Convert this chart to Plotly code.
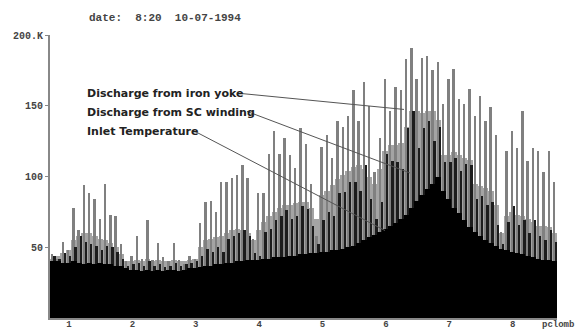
import plotly.graph_objects as go

# sample positions (x axis units, one sample every 1/12)
x_start = 0.74
x_step = 1 / 12
n = 96
x_pos = [round(x_start + i * x_step, 4) for i in range(n)]

# Discharge from iron yoke (tall gray spikes)
iron_yoke = [45, 42, 54, 48, 78, 62, 94, 88, 84, 70, 95, 73, 72, 52, 40, 44, 58, 42, 69, 41,
             53, 43, 40, 53, 41, 38, 44, 42, 67, 82, 83, 75, 96, 96, 99, 101, 108, 99, 56, 88,
             88, 116, 132, 116, 127, 115, 106, 134, 123, 95, 58, 121, 129, 113, 139, 135, 143, 161, 139, 167,
             150, 103, 127, 169, 146, 163, 161, 183, 191, 169, 184, 185, 175, 181, 151, 169, 176, 155, 151, 162,
             143, 157, 139, 149, 129, 61, 118, 132, 120, 146, 111, 120, 118, 103, 118, 96]

# gray envelope under the spikes
yoke_band = [42, 44, 46, 48, 55, 58, 60, 60, 58, 56, 55, 53, 50, 45, 40, 40, 41, 40, 42, 40,
             41, 40, 40, 41, 40, 40, 41, 42, 50, 55, 56, 57, 58, 60, 62, 63, 62, 60, 55, 62,
             68, 72, 75, 78, 80, 80, 81, 82, 82, 78, 70, 87, 90, 94, 98, 101, 104, 107, 108, 105,
             100, 95, 105, 118, 122, 122, 124, 135, 146, 146, 145, 146, 146, 140, 115, 115, 117, 115, 113, 112,
             95, 93, 92, 90, 80, 60, 72, 75, 73, 72, 70, 68, 65, 65, 64, 60]

# Discharge from SC winding (dark spikes)
sc_winding = [44, 42, 46, 44, 50, 58, 54, 52, 51, 48, 51, 50, 47, 42, 37, 38, 39, 37, 40, 37,
              38, 36, 37, 39, 37, 38, 39, 40, 44, 49, 47, 50, 47, 56, 58, 60, 62, 58, 46, 44,
              61, 63, 69, 72, 76, 70, 72, 79, 77, 65, 52, 69, 75, 72, 88, 89, 96, 96, 90, 108,
              84, 70, 82, 116, 111, 110, 105, 134, 146, 120, 134, 139, 125, 135, 110, 110, 113, 104, 109, 108,
              84, 86, 80, 82, 66, 52, 68, 79, 66, 69, 60, 69, 58, 55, 62, 54]

# Inlet Temperature (black area)
inlet_temp = [40, 40, 39, 39, 40, 39, 38, 39, 38, 39, 38, 38, 37, 37, 35, 34, 34, 33, 34, 33,
              34, 33, 34, 34, 33, 34, 35, 35, 36, 37, 37, 38, 38, 39, 39, 40, 40, 41, 41, 41,
              42, 42, 43, 43, 43, 44, 44, 45, 45, 46, 46, 47, 47, 48, 48, 49, 50, 51, 53, 55,
              57, 59, 61, 63, 65, 67, 70, 73, 78, 83, 87, 91, 95, 100, 90, 84, 78, 74, 69, 64,
              61, 58, 55, 53, 51, 49, 48, 47, 46, 45, 44, 43, 42, 41, 41, 40]

x_ticks = [1, 2, 3, 4, 5, 6, 7, 8]
x_ticktext = ["1", "2", "3", "4", "5", "6", "7", "8"]
y_ticks = [50, 100, 150, 200]
y_ticktext = ["50", "100", "150", "200.K"]

spike_shift = 0.032
fig = go.Figure()
fig.add_trace(go.Bar(x=x_pos, y=yoke_band, width=0.09, marker=dict(color="#a4a4a4", line=dict(width=0)),
                     name="band", showlegend=False))
fig.add_trace(go.Bar(x=x_pos, y=iron_yoke, width=0.03, marker=dict(color="#808080", line=dict(width=0)),
                     name="Discharge from iron yoke", showlegend=False))
fig.add_trace(go.Bar(x=[v + spike_shift for v in x_pos], y=sc_winding, width=0.03,
                     marker=dict(color="#1c1c1c", line=dict(width=0)),
                     name="Discharge from SC winding", showlegend=False))
fig.add_trace(go.Bar(x=x_pos, y=inlet_temp, width=0.09, marker=dict(color="#000000", line=dict(width=0)),
                     name="Inlet Temperature", showlegend=False))

lab_font = dict(family="DejaVu Sans", size=11, color="#222222", weight="bold")
labels = [
    ("Discharge from iron yoke", 158.6, (3.73, 158.6), (6.286, 147.4)),
    ("Discharge from SC winding", 145.3, (3.808, 146.0), (6.38, 102.5)),
    ("Inlet Temperature", 131.9, (2.956, 132.6), (5.986, 61.8)),
]
for text, ty, p0, p1 in labels:
    fig.add_annotation(x=1.252, y=ty, xref="x", yref="y", text=text, showarrow=False,
                       xanchor="left", yanchor="middle", font=lab_font)
    fig.add_shape(type="line", x0=p0[0], y0=p0[1], x1=p1[0], y1=p1[1], xref="x", yref="y",
                  line=dict(color="#555555", width=1))

fig.add_annotation(x=0.227, y=1.06, xref="paper", yref="paper", text="date:  8:20  10-07-1994",
                   showarrow=False, xanchor="center", yanchor="middle",
                   font=dict(family="Liberation Mono", size=11, color="#444444", weight="bold"))
fig.add_annotation(x=1.002, y=-0.026, xref="paper", yref="paper", text="pclomb",
                   showarrow=False, xanchor="center", yanchor="middle",
                   font=dict(family="Liberation Mono", size=9, color="#444444", weight="bold"))

fig.update_layout(
    width=584, height=331,
    margin=dict(l=50, r=27, t=35, b=13),
    barmode="overlay", bargap=0,
    paper_bgcolor="white", plot_bgcolor="white",
    template="none",
    xaxis=dict(range=[0.70, 8.70], tickvals=x_ticks, ticktext=x_ticktext, showgrid=False,
               zeroline=False, showline=True, linecolor="#888888", linewidth=2, ticks="",
               automargin=False, ticklabelstandoff=-4,
               tickfont=dict(family="Liberation Mono", size=9, color="#444444", weight="bold")),
    yaxis=dict(range=[0, 200], tickvals=y_ticks, ticktext=y_ticktext, showgrid=False,
               zeroline=False, showline=True, linecolor="#888888", linewidth=2,
               ticks="outside", ticklen=3, tickcolor="#888888", automargin=False,
               tickfont=dict(family="Liberation Mono", size=10, color="#444444", weight="bold")),
)

fig.write_html("out.html", config={"displayModeBar": False},
               post_script="document.body.style.margin='0';document.body.style.overflow='hidden';")
